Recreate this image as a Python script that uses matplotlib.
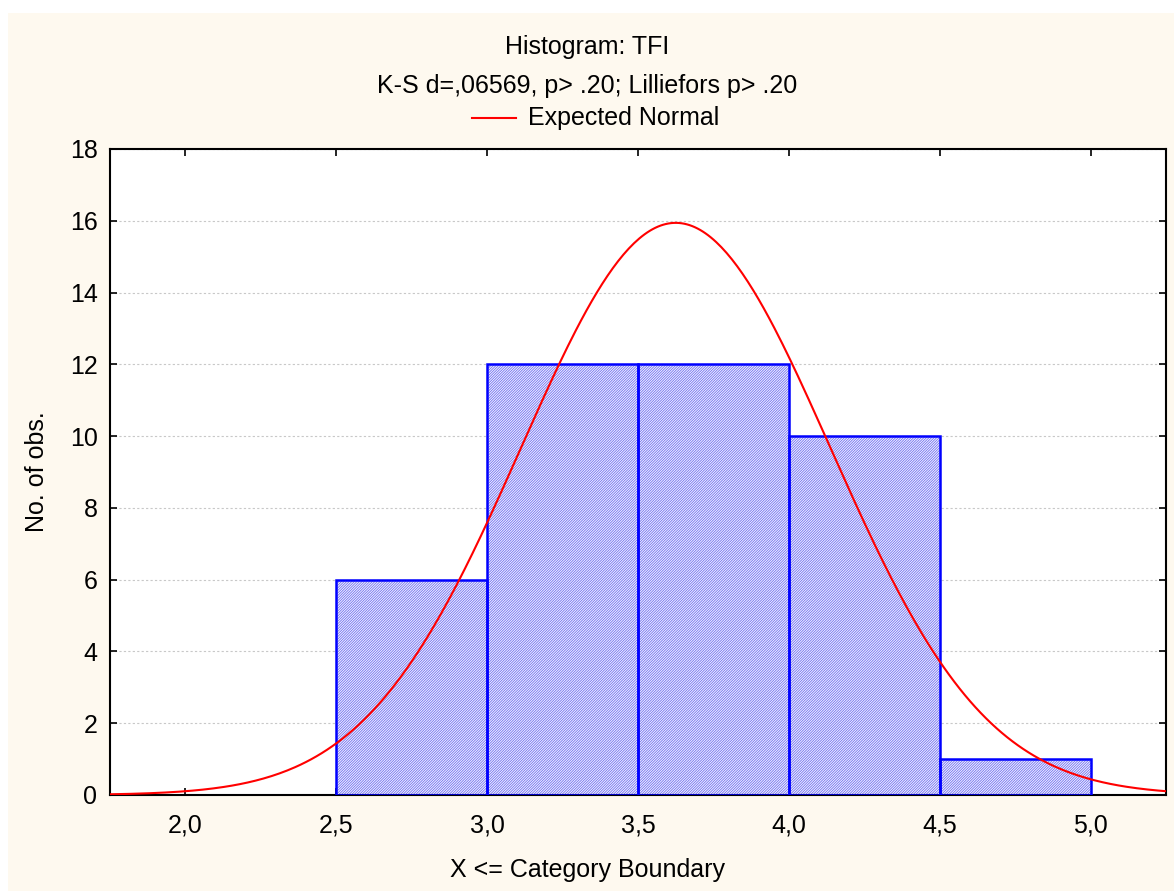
import numpy as np
import matplotlib.pyplot as plt
from matplotlib.patches import Rectangle
from matplotlib.lines import Line2D

plt.rcParams["font.family"] = ["Liberation Sans", "DejaVu Sans"]
plt.rcParams["hatch.linewidth"] = 0.6

# histogram data (bin edges and counts)
bin_edges = [2.5, 3.0, 3.5, 4.0, 4.5, 5.0]
counts = [6, 12, 12, 10, 1]

# expected normal parameters
n_obs = sum(counts)
mean_tfi = 3.625
sd_tfi = 0.513

x_ticks = [2.0, 2.5, 3.0, 3.5, 4.0, 4.5, 5.0]
x_tick_labels = ["2,0", "2,5", "3,0", "3,5", "4,0", "4,5", "5,0"]
y_ticks = [0, 2, 4, 6, 8, 10, 12, 14, 16, 18]

cream = "#fef9ef"
fs = 18

fig = plt.figure(figsize=(11.74, 8.91), dpi=100, facecolor="white")
fig.patches.append(Rectangle((8 / 1174, 0), 1, 1 - 13 / 891, transform=fig.transFigure,
                             facecolor=cream, edgecolor="none", zorder=-10))

ax = fig.add_axes([110 / 1174, 1 - 795 / 891, 1056 / 1174, 646 / 891])
ax.set_facecolor("white")

width = bin_edges[1] - bin_edges[0]
lefts = bin_edges[:-1]
ax.bar(lefts, counts, width=width, align="edge", facecolor="#f4f4ff",
       edgecolor="#7070f0", hatch="/" * 13, linewidth=0, zorder=2)
ax.bar(lefts, counts, width=width, align="edge", fill=False,
       edgecolor="#0000ff", linewidth=1.8, zorder=3)

xs = np.linspace(1.75, 5.25, 400)
ys = n_obs * width / (sd_tfi * np.sqrt(2 * np.pi)) * np.exp(-0.5 * ((xs - mean_tfi) / sd_tfi) ** 2)
ax.plot(xs, ys, color="#ff0000", linewidth=1.5, zorder=4)

ax.set_xlim(1.75, 5.25)
ax.set_ylim(0, 18)
ax.set_xticks(x_ticks)
ax.set_xticklabels(x_tick_labels)
ax.set_yticks(y_ticks)
ax.yaxis.grid(True, linestyle=(0, (2, 2)), color="#c8c8c8", linewidth=0.8, zorder=0)
ax.set_axisbelow(True)
ax.tick_params(direction="in", length=5, width=1.2, top=True, right=True,
               labelsize=fs, color="black")
ax.tick_params(axis="x", pad=13)
ax.tick_params(axis="y", pad=9)
for s in ax.spines.values():
    s.set_linewidth(1.5)

fig.text(0.5, 1 - 870 / 891, "X <= Category Boundary", ha="center", va="center", fontsize=fs)
fig.text(37 / 1174, 1 - 472 / 891, "No. of obs.", ha="center", va="center",
         rotation=90, fontsize=fs)

fig.text(0.5, 1 - 47 / 891, "Histogram: TFI", ha="center", va="center", fontsize=fs)
fig.text(0.5, 1 - 86 / 891, "K-S d=,06569, p> .20; Lilliefors p> .20",
         ha="center", va="center", fontsize=fs)
fig.lines.append(Line2D([472 / 1174, 516 / 1174], [1 - 118 / 891, 1 - 118 / 891],
                        transform=fig.transFigure, color="#ff0000", linewidth=1.5))
fig.text(528 / 1174, 1 - 118 / 891, "Expected Normal", ha="left", va="center", fontsize=fs)

fig.savefig("out.png", dpi=100, facecolor=fig.get_facecolor())
